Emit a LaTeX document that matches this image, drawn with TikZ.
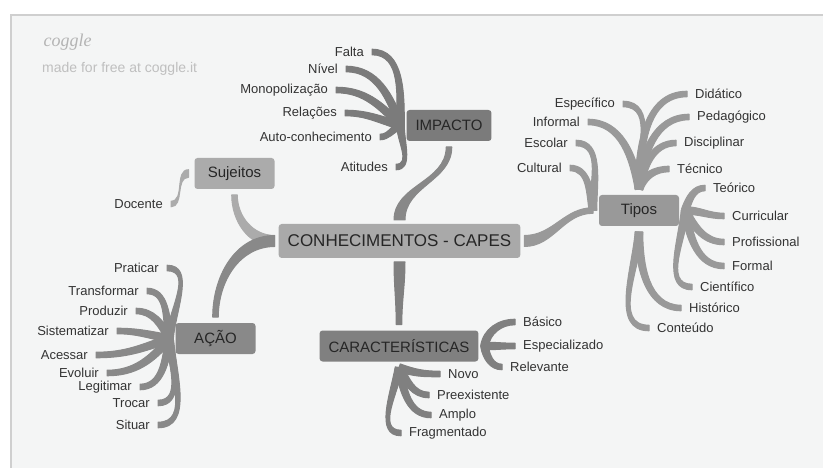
\documentclass[tikz,border=0pt]{standalone}
\usepackage{fontspec}
\setmainfont{Liberation Sans}
\newfontfamily\logofont{Liberation Serif}
\usetikzlibrary{calc}

\definecolor{paperc}{HTML}{F4F5F5}
\definecolor{framec}{HTML}{CFCFCF}
\definecolor{inkc}{HTML}{333333}
\definecolor{logoc}{HTML}{B4B4B4}
\definecolor{hubc}{HTML}{A9A9A9}
\definecolor{impc}{HTML}{7B7B7B}
\definecolor{sujc}{HTML}{ABABAB}
\definecolor{acaoc}{HTML}{898989}
\definecolor{tipc}{HTML}{999999}
\definecolor{carc}{HTML}{808080}

\pgfdeclarelayer{back}
\pgfdeclarelayer{twigs}
\pgfsetlayers{back,twigs,main}

\tikzset{
  hub/.style={fill=hubc, rounded corners=3pt, minimum height=34pt,
    inner xsep=9pt, outer sep=4pt, text=black!85,
    font=\fontsize{17}{20}\selectfont},
  topic/.style={rounded corners=3pt, minimum height=31pt, minimum width=80pt,
    inner xsep=9pt, outer sep=6pt, text=black!85,
    font=\fontsize{15}{18}\selectfont},
  leaf/.style={inner xsep=8pt, inner ysep=1pt, text=inkc,
    font=\fontsize{13}{15}\selectfont},
}

% tapered branch: [root half width]{colour}{from}{out}{to}{in}
\newcommand\twig[6][3.8]{%
  \fill[#2, draw=#2, line width=1pt, line join=round]
    ($(#3)+(#4+90:#1pt)$) to[out=#4,in=#6] ($(#5)+(#6-90:2.8pt)$)
    -- ($(#5)+(#6+90:2.8pt)$) to[out=#6,in=#4] ($(#3)+(#4-90:#1pt)$) -- cycle;}

\begin{document}
\begin{tikzpicture}[x=1pt,y=-1pt]
  \useasboundingbox (0,0) rectangle (823,468);
  \begin{pgfonlayer}{back}
    \fill[white] (0,0) rectangle (823,468);
    \fill[paperc] (11,15) rectangle (823,468);
    \draw[framec, line width=1.2pt] (823,15) -- (11,15) -- (11,468);
  \end{pgfonlayer}

  \node[anchor=west, text=logoc, font=\logofont\itshape\fontsize{18}{20}\selectfont] (logo) at (40,42) {coggle};
  \node[anchor=west, text=logoc!85, font=\fontsize{14}{16}\selectfont, inner xsep=0pt] (credit) at (42,69) {made for free at coggle.it};

  % centre and main topics
  \node[hub] (capes) at (399.5,241) {CONHECIMENTOS - CAPES};
  \node[topic, fill=impc] (impacto) at (449,125.5) {IMPACTO};
  \node[topic, fill=sujc] (sujeitos) at (234.5,173.5) {Sujeitos};
  \node[topic, fill=acaoc] (acao) at (215.5,338.5) {AÇÃO};
  \node[topic, fill=tipc] (tipos) at (639,210.5) {Tipos};
  \node[topic, fill=carc] (carac) at (399,346) {CARACTERÍSTICAS};

  % impacto
  \node[leaf, anchor=east] (falta) at (372,52) {Falta};
  \node[leaf, anchor=east] (nivel) at (346,69) {Nível};
  \node[leaf, anchor=east] (monop) at (336,90) {Monopolização};
  \node[leaf, anchor=east] (relac) at (345,113) {Relações};
  \node[leaf, anchor=east] (auto) at (380,137) {Auto-conhecimento};
  \node[leaf, anchor=east] (atit) at (396,167) {Atitudes};

  % sujeitos
  \node[leaf, anchor=east] (docente) at (171,204) {Docente};

  % acao
  \node[leaf, anchor=east] (praticar) at (167,268) {Praticar};
  \node[leaf, anchor=east] (transf) at (147,291) {Transformar};
  \node[leaf, anchor=east] (produzir) at (136,311) {Produzir};
  \node[leaf, anchor=east] (sistem) at (117,331) {Sistematizar};
  \node[leaf, anchor=east] (acessar) at (96,355) {Acessar};
  \node[leaf, anchor=east] (evoluir) at (107,373) {Evoluir};
  \node[leaf, anchor=east] (legit) at (140,387) {Legitimar};
  \node[leaf, anchor=east] (trocar) at (158,403) {Trocar};
  \node[leaf, anchor=east] (situar) at (158,425) {Situar};

  % tipos
  \node[leaf, anchor=east] (especif) at (623,104) {Específico};
  \node[leaf, anchor=east] (informal) at (588,122) {Informal};
  \node[leaf, anchor=east] (escolar) at (576,143) {Escolar};
  \node[leaf, anchor=east] (cultural) at (570,168) {Cultural};
  \node[leaf, anchor=west] (didat) at (687,94) {Didático};
  \node[leaf, anchor=west] (pedag) at (689,117) {Pedagógico};
  \node[leaf, anchor=west] (discip) at (676,143) {Disciplinar};
  \node[leaf, anchor=west] (tecnico) at (669,169) {Técnico};
  \node[leaf, anchor=west] (teorico) at (705,188) {Teórico};
  \node[leaf, anchor=west] (curric) at (724,216) {Curricular};
  \node[leaf, anchor=west] (profis) at (724,242) {Profissional};
  \node[leaf, anchor=west] (formal) at (724,266) {Formal};
  \node[leaf, anchor=west] (cientif) at (692,287) {Científico};
  \node[leaf, anchor=west] (histor) at (681,308) {Histórico};
  \node[leaf, anchor=west] (conteudo) at (649,328) {Conteúdo};

  % caracteristicas
  \node[leaf, anchor=west] (basico) at (515,322) {Básico};
  \node[leaf, anchor=west] (especial) at (515,346) {Especializado};
  \node[leaf, anchor=west] (relev) at (502,367) {Relevante};
  \node[leaf, anchor=west] (novo) at (440,374) {Novo};
  \node[leaf, anchor=west] (preex) at (429,395) {Preexistente};
  \node[leaf, anchor=west] (amplo) at (431,415) {Amplo};
  \node[leaf, anchor=west] (fragm) at (401,433) {Fragmentado};

  \begin{pgfonlayer}{twigs}
    % main branches
    \twig[5.5]{impc!90!white}{capes.north}{90}{impacto.south}{-90}
    \twig[5.5]{sujc}{capes.west}{180}{sujeitos.south}{-90}
    \twig[5.5]{acaoc}{capes.west}{180}{acao.north}{90}
    \twig[5.5]{tipc}{capes.east}{0}{tipos.west}{180}
    \twig[5.5]{carc}{capes.south}{-90}{carac.north}{90}

    \twig{impc}{impacto.west}{90}{falta.east}{0}
    \twig{impc}{impacto.west}{110}{nivel.east}{0}
    \twig{impc}{impacto.west}{135}{monop.east}{0}
    \twig{impc}{impacto.west}{165}{relac.east}{0}
    \twig{impc}{impacto.west}{-160}{auto.east}{0}
    \twig{impc}{impacto.west}{-90}{atit.east}{0}

    \twig{sujc}{sujeitos.west}{180}{docente.east}{0}

    \twig{acaoc}{acao.west}{85}{praticar.east}{0}
    \twig{acaoc}{acao.west}{100}{transf.east}{0}
    \twig{acaoc}{acao.west}{120}{produzir.east}{0}
    \twig{acaoc}{acao.west}{170}{sistem.east}{0}
    \twig{acaoc}{acao.west}{-160}{acessar.east}{0}
    \twig{acaoc}{acao.west}{-130}{evoluir.east}{0}
    \twig{acaoc}{acao.west}{-100}{legit.east}{0}
    \twig{acaoc}{acao.west}{-85}{trocar.east}{0}
    \twig{acaoc}{acao.west}{-85}{situar.east}{0}

    \twig{tipc}{tipos.west}{90}{escolar.east}{0}
    \twig{tipc}{tipos.west}{100}{cultural.east}{0}
    \twig{tipc}{tipos.north}{92}{especif.east}{0}
    \twig{tipc}{tipos.north}{100}{informal.east}{0}
    \twig{tipc}{tipos.north}{90}{didat.west}{180}
    \twig{tipc}{tipos.north}{85}{pedag.west}{180}
    \twig{tipc}{tipos.north}{80}{discip.west}{180}
    \twig{tipc}{tipos.north}{70}{tecnico.west}{180}
    \twig{tipc}{tipos.east}{70}{teorico.west}{180}
    \twig{tipc}{tipos.east}{0}{curric.west}{180}
    \twig{tipc}{tipos.east}{-60}{profis.west}{180}
    \twig{tipc}{tipos.east}{-80}{formal.west}{180}
    \twig{tipc}{tipos.east}{-95}{cientif.west}{180}
    \twig{tipc}{tipos.south}{-90}{histor.west}{180}
    \twig{tipc}{tipos.south}{-95}{conteudo.west}{180}

    \twig{carc}{carac.east}{80}{basico.west}{180}
    \twig{carc}{carac.east}{0}{especial.west}{180}
    \twig{carc}{carac.east}{-80}{relev.west}{180}
    \twig{carc}{carac.south}{-20}{novo.west}{180}
    \twig{carc}{carac.south}{-60}{preex.west}{180}
    \twig{carc}{carac.south}{-80}{amplo.west}{180}
    \twig{carc}{carac.south}{-100}{fragm.west}{180}
  \end{pgfonlayer}
\end{tikzpicture}
\end{document}
